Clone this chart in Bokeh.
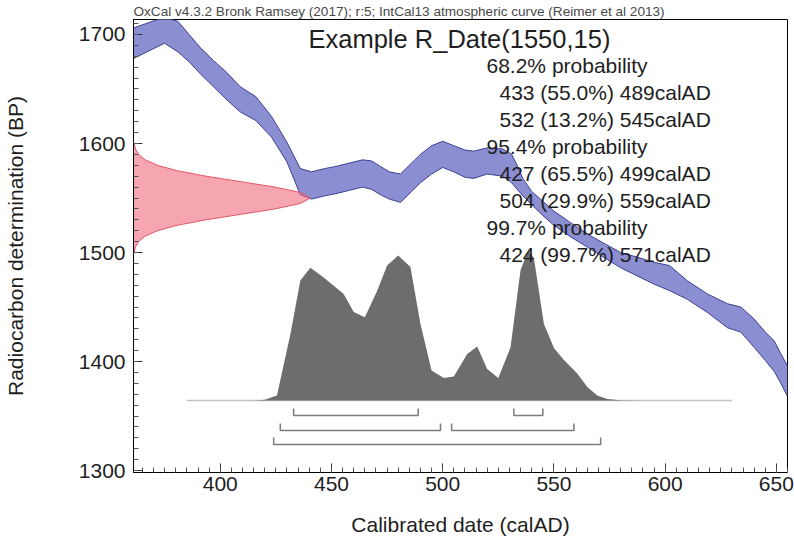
from bokeh.plotting import figure
from bokeh.models import Range1d, SingleIntervalTicker, Label, Title
from bokeh.embed import file_html
from bokeh.resources import INLINE

# ---------------- data ----------------
# IntCal13 calibration curve band (calAD vs BP, upper / lower edge)
cal_year = [361, 368, 375, 381, 386, 391, 397, 403, 409, 416, 423, 430, 436, 441,
            447, 452, 458, 464, 468, 472, 476, 481, 486, 490, 495, 500, 505, 510,
            514, 520, 527, 531, 533, 536, 540, 545, 550, 557, 565, 572, 580, 587,
            595, 602, 610, 619, 628, 634, 640, 645, 649, 652, 655]
cal_upper = [1706, 1711, 1716, 1712, 1700, 1688, 1676, 1665, 1652, 1643, 1625, 1601,
             1577, 1574, 1577, 1579, 1582, 1585, 1584, 1579, 1574, 1572, 1582, 1590,
             1598, 1602, 1598, 1594, 1593, 1596, 1595, 1590, 1582, 1568, 1556, 1547,
             1538, 1528, 1517, 1509, 1500, 1496, 1491, 1488, 1474, 1462, 1453, 1450,
             1439, 1427, 1419, 1407, 1396]
cal_lower = [1678, 1685, 1692, 1684, 1675, 1664, 1652, 1640, 1629, 1621, 1606, 1583,
             1553, 1549, 1552, 1554, 1557, 1560, 1558, 1553, 1549, 1546, 1556, 1564,
             1572, 1578, 1574, 1569, 1568, 1572, 1570, 1564, 1559, 1552, 1544, 1534,
             1525, 1515, 1505, 1496, 1486, 1479, 1471, 1465, 1457, 1445, 1431, 1427,
             1413, 1401, 1391, 1380, 1368]

# calibrated (posterior) distribution, relative probability
post_year = [385, 415, 420, 425.5, 431.5, 436, 440.5, 446.5, 455.5, 460, 465, 470.5,
             475, 480, 485.5, 490, 495, 500.5, 505, 511, 515.5, 520, 525, 530.5, 535,
             538.5, 541, 545.5, 550, 554.5, 560.5, 565, 569.5, 574, 580, 590, 630]
post_prob = [0, 0, 0.005, 0.033, 0.44, 0.80, 0.885, 0.82, 0.71, 0.59, 0.555, 0.73,
             0.90, 0.967, 0.89, 0.51, 0.20, 0.15, 0.16, 0.31, 0.36, 0.21, 0.15, 0.355,
             0.87, 1.0, 0.95, 0.51, 0.35, 0.27, 0.18, 0.09, 0.033, 0.01, 0.002, 0, 0]

# radiocarbon measurement R_Date(1550,15), relative probability per BP
r_bp = [1600, 1595, 1590, 1585, 1580, 1575, 1570, 1565, 1560, 1555, 1550,
        1545, 1540, 1535, 1530, 1525, 1520, 1515, 1510, 1505, 1500]
r_prob = [0.004, 0.011, 0.029, 0.066, 0.135, 0.249, 0.411, 0.607, 0.801, 0.946, 1.0,
          0.946, 0.801, 0.607, 0.411, 0.249, 0.135, 0.066, 0.029, 0.011, 0.004]

sample_name = "Example R_Date(1550,15)"
hpd_levels = ["68.2", "95.4", "99.7"]
hpd_from = [[433, 532], [427, 504], [424]]
hpd_pct = [[55.0, 13.2], [65.5, 29.9], [99.7]]
hpd_to = [[489, 545], [499, 559], [571]]

header = "OxCal v4.3.2 Bronk Ramsey (2017); r:5; IntCal13 atmospheric curve (Reimer et al 2013)"

# ---------------- layout ----------------
W, H = 794, 542
FL, FR, FT, FB = 133, 787, 19, 472          # frame edges in canvas px
XMIN, XMAX = 361.0, 655.0
YMIN, YMAX = 1298.17, 1713.76
FONT = "Liberation Sans"
INK = "#1e1e1e"

p = figure(width=W, height=H, output_backend="svg", toolbar_location=None,
           x_range=Range1d(XMIN, XMAX), y_range=Range1d(YMIN, YMAX),
           min_border_left=FL, min_border_right=W - FR,
           min_border_top=FT, min_border_bottom=H - FB)
p.title = Title(text=header, align="left", text_font=FONT, text_font_size="13.6px",
                text_font_style="normal", text_color="#4a4a4a", standoff=1,
                offset=0)
p.xgrid.visible = False
p.ygrid.visible = False
p.outline_line_color = "black"
p.outline_line_width = 1
p.background_fill_color = "white"
p.border_fill_color = "white"

# posterior probability axis (hidden): baseline 0 at canvas y=400, peak 1 -> 150 px
BASE = 400.0
PK = 150.0
p.extra_y_ranges = {"post": Range1d(-(FB - BASE) / PK, (BASE - FT) / PK)}

def cx(px):
    return XMIN + (px - FL) * (XMAX - XMIN) / (FR - FL)

def cy(py):
    return YMAX - (py - FT) * (YMAX - YMIN) / (FB - FT)

# calibration curve band
p.varea(x=cal_year, y1=cal_lower, y2=cal_upper, fill_color="#8b8ed0", fill_alpha=1.0)
p.line(cal_year, cal_upper, line_color="#3d3f96", line_width=1)
p.line(cal_year, cal_lower, line_color="#3d3f96", line_width=1)

# radiocarbon measurement (red) along the y axis
RED_SCALE = 79.4
red_x = [XMIN + v * RED_SCALE for v in r_prob]
p.harea(y=r_bp, x1=[XMIN] * len(r_bp), x2=red_x, fill_color="#f0707f", fill_alpha=0.62)
p.line(red_x, r_bp, line_color="#e0566a", line_width=1)

# posterior distribution (grey)
p.line([post_year[0], post_year[-1]], [0, 0], y_range_name="post",
       line_color="#c4c4c4", line_width=1.5)
p.varea(x=post_year, y1=[0] * len(post_year), y2=post_prob, y_range_name="post",
        fill_color="#6c6e6e")

# HPD range brackets
rows = [-0.10, -0.20, -0.293]
tick_h = 0.047
for r, fr, to in zip(rows, hpd_from, hpd_to):
    for a, b in zip(fr, to):
        p.line([a, a, b, b], [r + tick_h, r, r, r + tick_h], y_range_name="post",
               line_color="#7c7c7c", line_width=1.5)

# axes
p.xaxis.ticker = SingleIntervalTicker(interval=50, num_minor_ticks=10)
p.yaxis.ticker = SingleIntervalTicker(interval=100, num_minor_ticks=10)
for ax in (p.xaxis, p.yaxis):
    ax.major_tick_in = 9
    ax.major_tick_out = 0
    ax.minor_tick_in = 5
    ax.minor_tick_out = 0
    ax.major_tick_line_color = "#333333"
    ax.minor_tick_line_color = "#555555"
    ax.axis_line_color = "black"
    ax.major_label_text_font = FONT
    ax.major_label_text_font_size = "21px"
    ax.major_label_text_color = INK
    ax.axis_label_text_font = FONT
    ax.axis_label_text_font_size = "21px"
    ax.axis_label_text_font_style = "normal"
    ax.axis_label_text_color = INK
p.xaxis.axis_label = "Calibrated date (calAD)"
p.yaxis.axis_label = "Radiocarbon determination (BP)"
p.xaxis.major_label_standoff = 4
p.xaxis.axis_label_standoff = 19
p.yaxis.major_label_standoff = 8
p.yaxis.axis_label_standoff = 49

# title
p.add_layout(Label(x=cx(308), y=cy(38.5), text=sample_name, text_font=FONT,
                   text_font_size="25.5px", text_color=INK,
                   text_baseline="middle", text_align="left"))
# probability text
lines = []
for lvl, fr, pc, to in zip(hpd_levels, hpd_from, hpd_pct, hpd_to):
    lines.append((486, f"{lvl}% probability"))
    for a, q, b in zip(fr, pc, to):
        lines.append((499, f"{a} ({q:.1f}%) {b}calAD"))
y0, dy = 65.0, 27.04
for i, (xpx, t) in enumerate(lines):
    p.add_layout(Label(x=cx(xpx), y=cy(y0 + i * dy), text=t, text_font=FONT,
                       text_font_size="21px", text_color=INK,
                       text_baseline="middle", text_align="left"))

open("out.html", "w").write(file_html(p, INLINE))
